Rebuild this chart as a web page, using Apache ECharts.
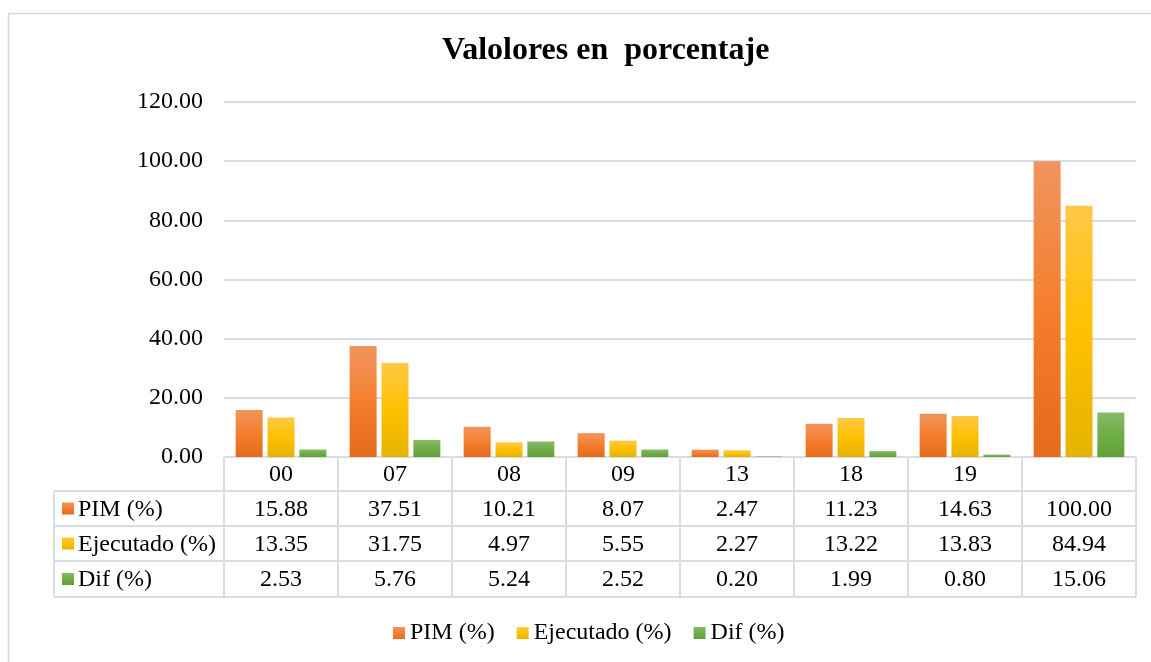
<!DOCTYPE html>
<html>
<head>
<meta charset="utf-8">
<title>Valolores en porcentaje</title>
<script src="https://cdn.jsdelivr.net/npm/echarts@6/dist/echarts.min.js"></script>
<style>
  html, body { margin: 0; padding: 0; background: #fff; }
  #main { width: 1151px; height: 662px; }
</style>
</head>
<body>
<div id="main"></div>
<script>
// datos
var categorias = ["00", "07", "08", "09", "13", "18", "19", ""];
var pim = [15.88, 37.51, 10.21, 8.07, 2.47, 11.23, 14.63, 100.00];
var ejecutado = [13.35, 31.75, 4.97, 5.55, 2.27, 13.22, 13.83, 84.94];
var dif = [2.53, 5.76, 5.24, 2.52, 0.20, 1.99, 0.80, 15.06];
var nombres = ["PIM (%)", "Ejecutado (%)", "Dif (%)"];
var yTicks = [0, 20, 40, 60, 80, 100, 120];

var FONT = '"Liberation Serif", "Times New Roman", serif';
var FS = 24;
var lineColor = "#D9DDE3";

// grid (px)
var gLeft = 224, gRight = 1136, gTop = 102, gBottom = 457;
var tabLeft = 54;
var rowLines = [457, 491, 526, 561, 597];

function grad(c) {
  return new echarts.graphic.LinearGradient(0, 0, 0, 1, [
    { offset: 0, color: c[0] },
    { offset: 0.5, color: c[1] },
    { offset: 1, color: c[2] }
  ]);
}
var colores = [
  grad(["#F0955E", "#F57E2E", "#E36B1A"]),
  grad(["#FFC846", "#FFC000", "#E5B300"]),
  grad(["#87BA68", "#70AD47", "#62A138"])
];

var myChart = echarts.init(document.getElementById("main"));

// tabla de datos debajo del eje
var graphic = [];
var colW = (gRight - gLeft) / categorias.length;
var filas = [pim, ejecutado, dif];

// marco exterior
graphic.push({
  type: "polyline",
  shape: { points: [[8.5, 662], [8.5, 13.5], [1151, 13.5]] },
  style: { stroke: "#D9D9D9", lineWidth: 1.5, fill: null },
  silent: true
});

// lineas horizontales
for (var r = 0; r < rowLines.length; r++) {
  graphic.push({
    type: "line",
    shape: { x1: r === 0 ? gLeft : tabLeft, y1: rowLines[r], x2: gRight, y2: rowLines[r] },
    style: { stroke: lineColor, lineWidth: 2 },
    silent: true
  });
}
// lineas verticales
graphic.push({
  type: "line",
  shape: { x1: tabLeft, y1: rowLines[1], x2: tabLeft, y2: rowLines[4] },
  style: { stroke: lineColor, lineWidth: 2 },
  silent: true
});
for (var c = 0; c <= categorias.length; c++) {
  var x = Math.round(gLeft + c * colW);
  graphic.push({
    type: "line",
    shape: { x1: x, y1: rowLines[0], x2: x, y2: rowLines[4] },
    style: { stroke: lineColor, lineWidth: 2 },
    silent: true
  });
}
// textos de categorias y valores
for (var i = 0; i < categorias.length; i++) {
  var cx = gLeft + (i + 0.5) * colW;
  graphic.push({
    type: "text",
    x: cx, y: (rowLines[0] + rowLines[1]) / 2 + 1,
    style: { text: categorias[i], font: FS + "px " + FONT, fill: "#000", align: "center", verticalAlign: "middle" },
    silent: true
  });
  for (var f = 0; f < filas.length; f++) {
    graphic.push({
      type: "text",
      x: cx, y: (rowLines[f + 1] + rowLines[f + 2]) / 2 + 1,
      style: { text: filas[f][i].toFixed(2), font: FS + "px " + FONT, fill: "#000", align: "center", verticalAlign: "middle" },
      silent: true
    });
  }
}
// claves de leyenda en la tabla
for (var k = 0; k < nombres.length; k++) {
  var yc = (rowLines[k + 1] + rowLines[k + 2]) / 2;
  graphic.push({
    type: "rect",
    shape: { x: 62, y: yc - 6, width: 12, height: 12 },
    style: { fill: colores[k] },
    silent: true
  });
  graphic.push({
    type: "text",
    x: 78, y: yc + 1,
    style: { text: nombres[k], font: FS + "px " + FONT, fill: "#000", align: "left", verticalAlign: "middle" },
    silent: true
  });
}

var option = {
  backgroundColor: "#fff",
  animation: false,
  title: {
    text: "Valolores en  porcentaje",
    left: 437,
    top: 30,
    textStyle: { fontFamily: FONT, fontSize: 32, fontWeight: "bold", color: "#000" }
  },
  legend: {
    data: nombres,
    left: 388,
    top: 616,
    itemWidth: 12,
    itemHeight: 12,
    itemGap: 22,
    icon: "rect",
    textStyle: { fontFamily: FONT, fontSize: FS, color: "#000", padding: [0, 0, 0, 0] }
  },
  grid: {
    left: gLeft,
    right: 1151 - gRight,
    top: gTop,
    bottom: 662 - gBottom,
    containLabel: false
  },
  xAxis: {
    type: "category",
    data: categorias,
    axisLine: { show: false },
    axisTick: { show: false },
    axisLabel: { show: false }
  },
  yAxis: {
    type: "value",
    min: yTicks[0],
    max: yTicks[yTicks.length - 1],
    interval: 20,
    axisLine: { show: false },
    axisTick: { show: false },
    axisLabel: {
      margin: 21,
      fontFamily: FONT,
      fontSize: FS,
      color: "#000",
      formatter: function (v) { return v.toFixed(2); }
    },
    splitLine: { lineStyle: { color: lineColor, width: 2 } }
  },
  series: [
    { name: nombres[0], type: "bar", data: pim, barWidth: 27, barGap: "18%", itemStyle: { color: colores[0] } },
    { name: nombres[1], type: "bar", data: ejecutado, barWidth: 27, barGap: "18%", itemStyle: { color: colores[1] } },
    { name: nombres[2], type: "bar", data: dif, barWidth: 27, barGap: "18%", itemStyle: { color: colores[2] } }
  ],
  graphic: graphic
};
myChart.setOption(option);
</script>
</body>
</html>
